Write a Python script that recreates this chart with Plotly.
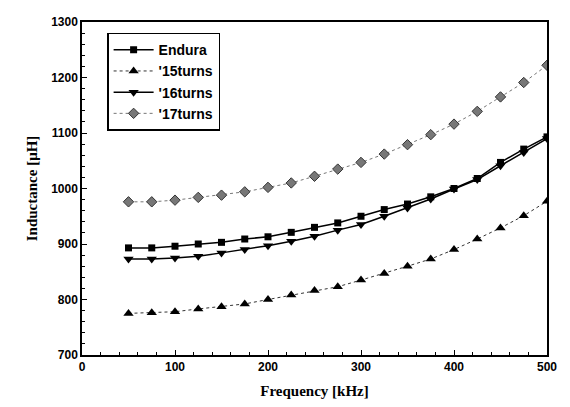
import plotly.graph_objects as go

freq = [50, 75, 100, 125, 150, 175, 200, 225, 250, 275, 300, 325, 350, 375, 400, 425, 450, 475, 500]
endura = [893, 893, 896, 900, 903, 909, 913, 921, 930, 938, 950, 962, 972, 985, 1000, 1018, 1047, 1071, 1093]
t15 = [775, 776, 778, 783, 787, 792, 800, 808, 816, 823, 835, 847, 860, 873, 890, 909, 929, 951, 977]
t16 = [873, 873, 875, 878, 884, 890, 897, 905, 914, 925, 935, 950, 965, 981, 999, 1016, 1041, 1065, 1090]
t17 = [976, 976, 979, 984, 988, 994, 1002, 1010, 1022, 1035, 1047, 1062, 1079, 1097, 1116, 1139, 1165, 1191, 1222]

names = ["Endura", "'15turns", "'16turns", "'17turns"]

fig = go.Figure()
fig.add_trace(go.Scatter(x=freq, y=endura, name=names[0], mode="lines+markers",
                         line=dict(color="black", width=1.5),
                         marker=dict(symbol="square", size=7, color="black")))
fig.add_trace(go.Scatter(x=freq, y=t15, name=names[1], mode="lines+markers",
                         line=dict(color="#333333", width=1, dash="dot"),
                         marker=dict(symbol="triangle-up", size=9, color="black")))
fig.add_trace(go.Scatter(x=freq, y=t16, name=names[2], mode="lines+markers",
                         line=dict(color="black", width=1.5),
                         marker=dict(symbol="triangle-down", size=9, color="black")))
fig.add_trace(go.Scatter(x=freq, y=t17, name=names[3], mode="lines+markers",
                         line=dict(color="#777777", width=1, dash="dot"),
                         marker=dict(symbol="diamond", size=8, color="#777777",
                                     line=dict(color="#333333", width=1))))

axis_common = dict(showline=True, linecolor="black", linewidth=1.5, mirror=True,
                   ticks="inside", ticklen=5, tickcolor="black", showgrid=False,
                   zeroline=False,
                   tickfont=dict(family="Liberation Sans, Arial", size=12, color="black", weight="bold"),
                   minor=dict(ticks="inside", ticklen=3, tickcolor="black"))

fig.update_xaxes(range=[0, 500], dtick=100, **axis_common,
                 title=dict(text="Frequency [kHz]", standoff=12,
                            font=dict(family="Liberation Serif, Times New Roman", size=15, color="black", weight="bold")))
fig.update_yaxes(range=[700, 1300], dtick=100, **axis_common,
                 title=dict(text="Inductance [μH]", standoff=10,
                            font=dict(family="Liberation Serif, Times New Roman", size=15, color="black", weight="bold")))

fig.update_layout(width=570, height=407, plot_bgcolor="white", paper_bgcolor="white",
                  margin=dict(l=74, r=31, t=7, b=60),
                  legend=dict(x=0.054, y=0.968, xanchor="left", yanchor="top",
                              bordercolor="black", borderwidth=1.5, bgcolor="white",
                              font=dict(family="Liberation Sans, Arial", size=14, color="black", weight="bold"),
                              tracegroupgap=0, itemwidth=40))

fig.write_html("out.html")
